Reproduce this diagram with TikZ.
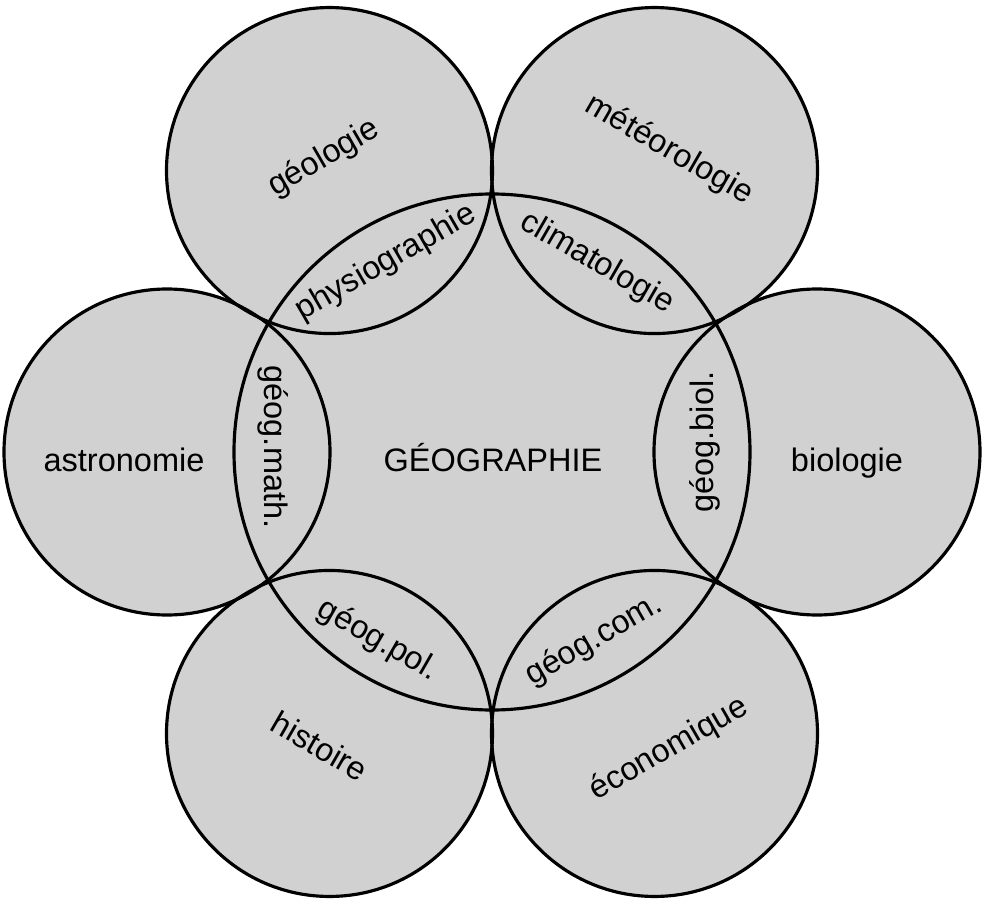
\documentclass[tikz,border=0pt]{standalone}
\usepackage{fontspec}
\setmainfont{Liberation Sans}
\usetikzlibrary{backgrounds}

\tikzset{
  field/.style={circle, draw, line width=1.8pt, minimum size=6.52cm, inner sep=0pt},
  core/.style={field, minimum size=10.32cm},
  word/.style={font=\fontsize{18.5}{20}\selectfont, inner sep=1pt}
}

\begin{document}
\begin{tikzpicture}
	\useasboundingbox (-9.84,-8.94) rectangle (9.82,9.04);
	
	% Define the central circle
	\node[core] (geo) at (0,0) {};
	
	% Define the six fields around it
	\foreach \n/\a in {biol/0, meteo/60, geol/120, astro/180, hist/240, econ/300}
	\node[field] (\n) at (\a:6.5) {};
	
	% Shade all circles behind the outlines
	\begin{scope}[on background layer]
		\fill[black!18] (geo.center) circle (5.16);
		\foreach \n in {biol, meteo, geol, astro, hist, econ}
		\fill[black!18] (\n.center) circle (3.26);
	\end{scope}
	
	% Names of the fields
	\node[word] (tgeo) at (0.02,-0.12) {GÉOGRAPHIE};
	\node[word, rotate=30] (tgeol) at (-3.36,5.88) {géologie};
	\node[word, rotate=-30] (tmeteo) at (3.54,6.04) {météorologie};
	\node[word] (tastro) at (-7.36,-0.16) {astronomie};
	\node[word] (tbiol) at (7.10,-0.22) {biologie};
	\node[word, rotate=-30] (thist) at (-3.44,-5.88) {histoire};
	\node[word, rotate=30] (tecon) at (3.54,-5.94) {économique};
	
	% Names of the overlaps
	\node[word, rotate=30] (tphys) at (-2.12,3.78) {physiographie};
	\node[word, rotate=-30] (tclim) at (2.10,3.78) {climatologie};
	\node[word, rotate=-90] (tmath) at (-4.38,0.10) {géog.math.};
	\node[word, rotate=90] (tgbiol) at (4.26,0.20) {géog.biol.};
	\node[word, rotate=-30] (tpol) at (-2.28,-3.76) {géog.pol.};
	\node[word, rotate=30] (tcom) at (2.04,-3.76) {géog.com.};
\end{tikzpicture}
\end{document}
